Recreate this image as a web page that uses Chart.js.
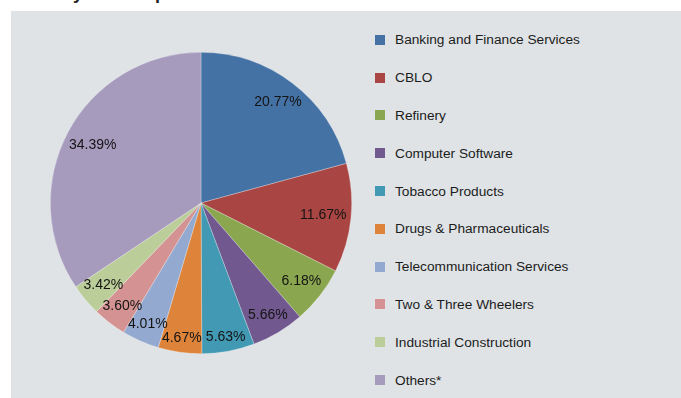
<!DOCTYPE html>
<html>
<head>
<meta charset="utf-8">
<title>Industry-wise Exposure</title>
<script src="https://cdn.jsdelivr.net/npm/chart.js@4.4.1/dist/chart.umd.min.js"></script>
<style>
  html, body { margin: 0; padding: 0; background: #ffffff; }
  body { width: 681px; height: 398px; position: relative; overflow: hidden; font-family: "Liberation Sans", Arial, sans-serif; }
  .title { position: absolute; left: 12px; top: -16px; font-size: 18px; line-height: 18px; font-weight: bold; color: #222; white-space: nowrap; }
  .panel { position: absolute; left: 11px; top: 11px; right: 0; bottom: 0; background: #dfe3e6; }
  .pie-wrap { position: absolute; left: 50px; top: 52px; width: 302px; height: 302px; }
  .legend { position: absolute; left: 375px; top: 21px; margin: 0; padding: 0; list-style: none; }
  .legend li { height: 37.8px; display: flex; align-items: center; font-size: 13.7px; color: #1c1c1c; }
  .legend .swatch { width: 10px; height: 10px; margin-right: 10px; flex: none; }
</style>
</head>
<body>
<div class="title">Industry-wise Exposure</div>
<div class="panel"></div>
<div class="pie-wrap"><canvas id="sectorChart"></canvas></div>
<ul class="legend" id="sectorLegend"></ul>
<script>
// Sector allocation, % of net assets
const sectorLabels = [
  'Banking and Finance Services',
  'CBLO',
  'Refinery',
  'Computer Software',
  'Tobacco Products',
  'Drugs & Pharmaceuticals',
  'Telecommunication Services',
  'Two & Three Wheelers',
  'Industrial Construction',
  'Others*'
];
const sectorShares = [20.77, 11.67, 6.18, 5.66, 5.63, 4.67, 4.01, 3.60, 3.42, 34.39];
const sectorColors = [
  '#4572a5', '#a94542', '#8aa64e', '#71588f', '#4199b3',
  '#dd843a', '#93a9d0', '#d49392', '#bbcd98', '#a69bbd'
];

// Percent labels sit just inside the rim, like "inside end" labels
const insideEndLabels = {
  id: 'insideEndLabels',
  afterDatasetsDraw(chart) {
    const ctx = chart.ctx;
    const meta = chart.getDatasetMeta(0);
    ctx.save();
    ctx.font = '14px "Liberation Sans", Arial, sans-serif';
    ctx.fillStyle = '#141414';
    ctx.textAlign = 'center';
    ctx.textBaseline = 'middle';
    meta.data.forEach((arc, i) => {
      const { x, y, startAngle, endAngle, outerRadius } = arc.getProps(['x', 'y', 'startAngle', 'endAngle', 'outerRadius'], true);
      const mid = (startAngle + endAngle) / 2;
      const ux = Math.cos(mid), uy = Math.sin(mid);
      const text = sectorShares[i].toFixed(2) + '%';
      const hw = ctx.measureText(text).width / 2;
      const hh = 6;
      // push the label out until its far corner touches the rim (minus a small gap)
      const cx = Math.sign(ux) * hw, cy = Math.sign(uy) * hh;
      const R = outerRadius - 4;
      const dot = ux * cx + uy * cy;
      const d = -dot + Math.sqrt(dot * dot - (cx * cx + cy * cy) + R * R);
      ctx.fillText(text, x + ux * d, y + uy * d);
    });
    ctx.restore();
  }
};

new Chart(document.getElementById('sectorChart'), {
  type: 'pie',
  data: {
    labels: sectorLabels,
    datasets: [{
      data: sectorShares,
      backgroundColor: sectorColors,
      borderColor: 'rgba(255, 255, 255, 0.45)',
      borderWidth: 0.6
    }]
  },
  options: {
    responsive: true,
    maintainAspectRatio: false,
    animation: false,
    layout: { padding: 0 },
    plugins: {
      legend: { display: false },
      tooltip: { enabled: false }
    }
  },
  plugins: [insideEndLabels]
});

// Legend list on the right
const legendEl = document.getElementById('sectorLegend');
sectorLabels.forEach((name, i) => {
  const li = document.createElement('li');
  const sw = document.createElement('span');
  sw.className = 'swatch';
  sw.style.background = sectorColors[i];
  li.appendChild(sw);
  li.appendChild(document.createTextNode(name));
  legendEl.appendChild(li);
});
</script>
</body>
</html>
